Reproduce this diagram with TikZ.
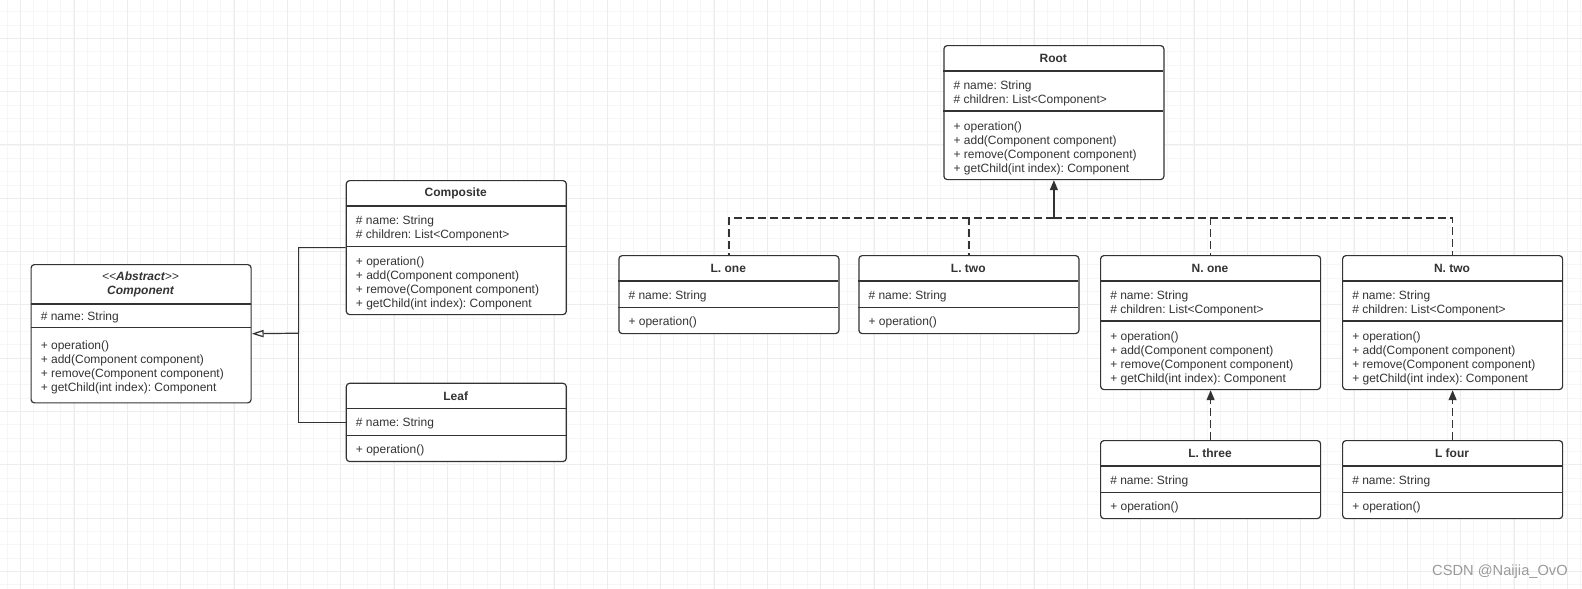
\documentclass[tikz,border=0pt]{standalone}
\usepackage{fontspec}
\setmainfont{Liberation Sans}
\usetikzlibrary{arrows.meta}
\frenchspacing
\definecolor{minorline}{HTML}{F6F6F6}
\definecolor{majorline}{HTML}{EDEDED}
\definecolor{ink}{HTML}{333333}
\definecolor{wmark}{HTML}{9A9A9A}
\tikzset{
  classbox/.style={draw=ink, line width=0.9pt, rounded corners=2.5pt, fill=white, minimum width=165pt, anchor=north west, inner sep=0pt},
  ctitle/.style={font=\fontsize{9}{10.5}\selectfont\bfseries, text=ink, inner sep=0pt, align=center},
  members/.style={font=\fontsize{9}{10.5}\selectfont, text=ink, inner sep=0pt, align=left, anchor=west, yshift=-1.2pt},
  sepline/.style={draw=ink, line width=0.9pt},
  inherit/.style={draw=ink, line width=0.9pt},
  depline/.style={draw=ink, line width=0.9pt, dash pattern=on 6pt off 3pt},
  depend/.style={depline, -{Triangle[length=7.5pt,width=6pt]}},
  minorgrid/.style={draw=minorline, line width=0.75pt},
  majorgrid/.style={draw=majorline, line width=0.75pt}
}
\begin{document}
\begin{tikzpicture}[x=0.75pt,y=-0.75pt]
\useasboundingbox (0,0) rectangle (1582,589);
\fill[white] (0,0) rectangle (1582,589);
\foreach \i in {0,...,118} \draw[minorgrid] ({7.33+13.333*\i},0) -- ++(0,589);
\foreach \i in {0,...,44} \draw[minorgrid] (0,{11.67+13.333*\i}) -- ++(1582,0);
\foreach \i in {0,...,29} \draw[majorgrid] ({20.67+53.333*\i},0) -- ++(0,589);
\foreach \i in {0,...,10} \draw[majorgrid] (0,{38.33+53.333*\i}) -- ++(1582,0);

\node[classbox, minimum height=103.7pt] (component) at (30.5,264) {};
\node[ctitle] (component-t) at (140.5,284) {\itshape{\mdseries <{}<}Abstract{\mdseries >{}>}\\\itshape Component};
\draw[sepline] (30.5,304) -- (250.5,304);
\draw[sepline] (30.5,327.7) -- (250.5,327.7);
\node[members] (component-a) at (40.5,316) {\# name: String};
\node[members] (component-o) at (40.5,366) {+ operation()\\+ add(Component component)\\+ remove(Component component)\\+ getChild(int index): Component};

\node[classbox, minimum height=100.5pt] (composite) at (345.7,180) {};
\node[ctitle] (composite-t) at (455.7,193) {Composite};
\draw[sepline] (345.7,206) -- (565.7,206);
\draw[sepline] (345.7,246.5) -- (565.7,246.5);
\node[members] (composite-a) at (355.7,226.5) {\# name: String\\\# children: List<Component>};
\node[members] (composite-o) at (355.7,281.5) {+ operation()\\+ add(Component component)\\+ remove(Component component)\\+ getChild(int index): Component};

\node[classbox, minimum height=58.7pt] (leaf) at (345.7,382.7) {};
\node[ctitle] (leaf-t) at (455.7,396) {Leaf};
\draw[sepline] (345.7,408.7) -- (565.7,408.7);
\draw[sepline] (345.7,435.7) -- (565.7,435.7);
\node[members] (leaf-a) at (355.7,422) {\# name: String};
\node[members] (leaf-o) at (355.7,448.7) {+ operation()};

\coordinate (gjoin) at (298.6,333.2);
\draw[inherit, -{Triangle[open,length=9pt,width=5.5pt]}] (composite.west) -| (gjoin) -- (component.east);
\draw[inherit] (leaf.west) -| (gjoin);

\node[classbox, minimum height=100.5pt] (root) at (943.3,45) {};
\node[ctitle] (root-t) at (1053.3,58) {Root};
\draw[sepline] (943.3,71) -- (1163.3,71);
\draw[sepline] (943.3,111) -- (1163.3,111);
\node[members] (root-a) at (953.3,92) {\# name: String\\\# children: List<Component>};
\node[members] (root-o) at (953.3,146.5) {+ operation()\\+ add(Component component)\\+ remove(Component component)\\+ getChild(int index): Component};

\node[classbox, minimum height=58.5pt] (lone) at (618.3,255) {};
\node[ctitle] (lone-t) at (728.3,268) {L. one};
\draw[sepline] (618.3,281) -- (838.3,281);
\draw[sepline] (618.3,307.5) -- (838.3,307.5);
\node[members] (lone-a) at (628.3,294.5) {\# name: String};
\node[members] (lone-o) at (628.3,320.5) {+ operation()};

\node[classbox, minimum height=58.5pt] (ltwo) at (858.3,255) {};
\node[ctitle] (ltwo-t) at (968.3,268) {L. two};
\draw[sepline] (858.3,281) -- (1078.3,281);
\draw[sepline] (858.3,307.5) -- (1078.3,307.5);
\node[members] (ltwo-a) at (868.3,294.5) {\# name: String};
\node[members] (ltwo-o) at (868.3,320.5) {+ operation()};

\node[classbox, minimum height=100.5pt] (none) at (1100,255) {};
\node[ctitle] (none-t) at (1210,268) {N. one};
\draw[sepline] (1100,281) -- (1320,281);
\draw[sepline] (1100,321) -- (1320,321);
\node[members] (none-a) at (1110,302) {\# name: String\\\# children: List<Component>};
\node[members] (none-o) at (1110,356.5) {+ operation()\\+ add(Component component)\\+ remove(Component component)\\+ getChild(int index): Component};

\node[classbox, minimum height=100.5pt] (ntwo) at (1342,255) {};
\node[ctitle] (ntwo-t) at (1452,268) {N. two};
\draw[sepline] (1342,281) -- (1562,281);
\draw[sepline] (1342,321) -- (1562,321);
\node[members] (ntwo-a) at (1352,302) {\# name: String\\\# children: List<Component>};
\node[members] (ntwo-o) at (1352,356.5) {+ operation()\\+ add(Component component)\\+ remove(Component component)\\+ getChild(int index): Component};

\node[classbox, minimum height=58.5pt] (lthree) at (1100,440) {};
\node[ctitle] (lthree-t) at (1210,453) {L. three};
\draw[sepline] (1100,466) -- (1320,466);
\draw[sepline] (1100,492.5) -- (1320,492.5);
\node[members] (lthree-a) at (1110,479.5) {\# name: String};
\node[members] (lthree-o) at (1110,505.5) {+ operation()};

\node[classbox, minimum height=58.5pt] (lfour) at (1342,440) {};
\node[ctitle] (lfour-t) at (1452,453) {L four};
\draw[sepline] (1342,466) -- (1562,466);
\draw[sepline] (1342,492.5) -- (1562,492.5);
\node[members] (lfour-a) at (1352,479.5) {\# name: String};
\node[members] (lfour-o) at (1352,505.5) {+ operation()};

\coordinate (bus) at (root.south |- 0,218);
\draw[depend, solid] (bus) -- (root.south);
\draw[depline] (bus) -| (lone.north);
\draw[depline] (bus) -| (ltwo.north);
\draw[depline] (bus) -| (none.north);
\draw[depline] (bus) -| (ntwo.north);
\draw[depend] (lthree.north) -- (none.south);
\draw[depend] (lfour.north) -- (ntwo.south);

\node[anchor=east, inner sep=0pt, text=wmark, font=\fontsize{11}{13}\selectfont] (csdn) at (1568,571.7) {CSDN @Naijia\_OvO};
\end{tikzpicture}
\end{document}
